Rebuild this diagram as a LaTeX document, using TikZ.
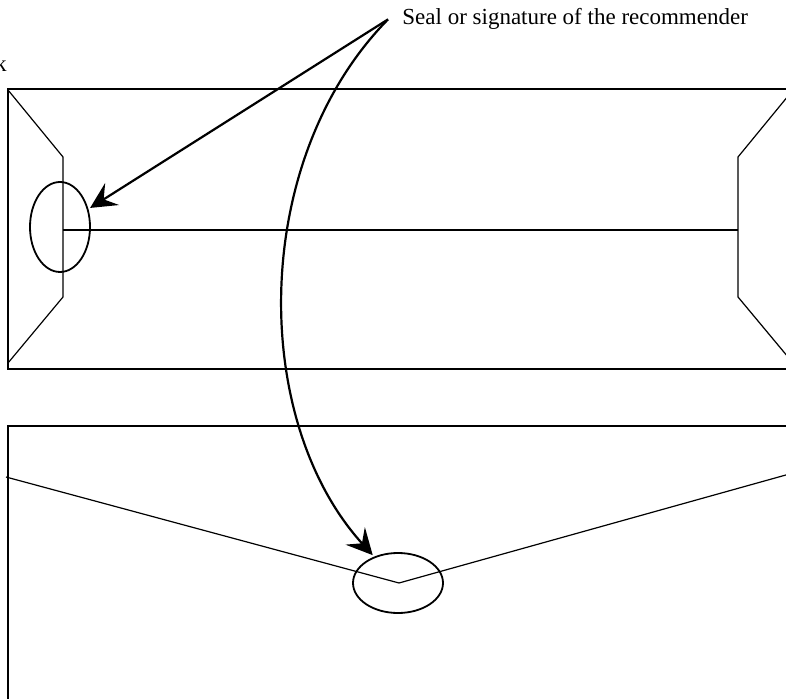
\documentclass[tikz,border=0pt]{standalone}
\usepackage{fontspec}
\setmainfont{Liberation Serif}
\usetikzlibrary{arrows.meta,shapes.geometric}

\begin{document}
\begin{tikzpicture}[
  x=0.5pt, y=-0.5pt,
  env/.style={line width=1.1pt},
  fold/.style={line width=0.6pt},
  seal/.style={draw, ellipse, line width=0.9pt, inner sep=0pt},
  fl/.style={-{Stealth[length=13pt,width=13pt,inset=5pt]}, line width=1.1pt, shorten >=1pt},
  lbl/.style={font=\fontsize{11.5}{14}\selectfont}
]
  \useasboundingbox (0,0) rectangle (786,699);
  \clip (0,0) rectangle (786,699);

  % --- Enveloppe du haut (dos) ---
  \draw[env] (8,89) rectangle (793,369);
  \draw[fold] (8,90) -- (63,157) -- (63,297) -- (8,363);
  \draw[fold] (793,90) -- (738,157) -- (738,297) -- (793,363);
  \draw[fold] (63,230) -- (738,230);

  % --- Enveloppe du bas (face) ---
  \draw[env] (8,426) rectangle (793,760);
  \draw[fold] (6,477) -- (399,583) -- (793,473);

  % --- Cachets ---
  \node[seal, minimum width=30pt, minimum height=45pt] (sealA) at (60,227) {};
  \node[seal, minimum width=45pt, minimum height=30pt] (sealB) at (398,583) {};

  % --- Textes ---
  \node[lbl, anchor=base west, inner xsep=7pt] (sig) at (388,25)
    {Seal or signature of the recommender};
  \node[lbl, anchor=base east, inner sep=0pt] (word) at (7,72) {k};

  % --- Flèches ---
  \draw[fl] (sig.west) -- (sealA);
  \draw[fl] (sig.west) .. controls (250,160) and (250,420) .. (sealB);
\end{tikzpicture}
\end{document}
